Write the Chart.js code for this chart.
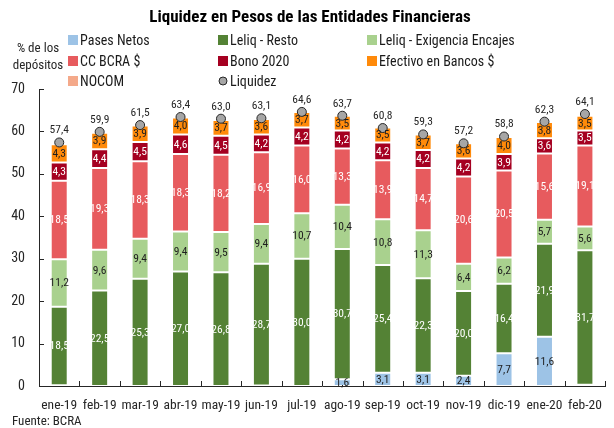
<!DOCTYPE html>
<html><head><meta charset="utf-8">
<script src="https://cdn.jsdelivr.net/npm/chart.js@4.4.0/dist/chart.umd.min.js"></script>
<style>html,body{margin:0;padding:0;background:#fff;}#wrap{width:614px;height:428px;position:relative;}</style>
</head><body><div id="wrap"><canvas id="c" width="614" height="428"></canvas></div>
<script>
const categories = ['ene-19','feb-19','mar-19','abr-19','may-19','jun-19','jul-19','ago-19','sep-19','oct-19','nov-19','dic-19','ene-20','feb-20'];
const pasesNetos   = [0.2,0,0,0,0,0.1,0,1.6,3.1,3.1,2.4,7.7,11.6,0.3];
const leliqResto   = [18.5,22.5,25.3,27.0,26.8,28.7,30.0,30.7,25.4,22.3,20.0,16.4,21.9,31.7];
const leliqEncajes = [11.2,9.6,9.4,9.4,9.5,9.4,10.7,10.4,10.8,11.3,6.4,6.2,5.7,5.6];
const ccBcra       = [18.5,19.3,18.3,18.3,18.2,16.9,16.0,13.3,13.9,14.7,20.6,20.5,15.6,19.1];
const bono2020     = [4.3,4.4,4.5,4.6,4.5,4.2,4.2,4.2,4.2,4.2,4.2,3.9,3.6,3.5];
const efectivo     = [4.3,3.9,3.9,4.0,3.7,3.6,3.7,3.5,3.5,3.7,3.6,4.0,3.8,3.5];
const nocom        = [0.1,0.2,0.1,0.1,0.3,0.2,0,0,0,0,0,0.1,0.1,0.4];
const liquidez     = [57.4,59.9,61.5,63.4,63.0,63.1,64.6,63.7,60.8,59.3,57.2,58.8,62.3,64.1];
const yTicks = [0,10,20,30,40,50,60,70];

const FONT = "'Roboto Condensed','Liberation Sans Narrow','DejaVu Sans Condensed',Roboto,sans-serif";
Chart.defaults.font.family = FONT;
Chart.defaults.color = '#262626';

const fmt = v => v.toFixed(1).replace('.', ',');

function barDs(label, data, color, labelColor){
  return {type:'bar', label, data, backgroundColor:color, borderColor:'rgba(255,255,255,0.55)', borderWidth:1,
    borderSkipped:false, stack:'s', barPercentage:0.42, categoryPercentage:1.0, labelColor, order:2};
}
const datasets = [
  barDs('Pases Netos', pasesNetos, '#9DC3E6', '#1f1f1f'),
  barDs('Leliq - Resto', leliqResto, '#548235', '#ffffff'),
  barDs('Leliq - Exigencia Encajes', leliqEncajes, '#A9D18E', '#1f1f1f'),
  barDs('CC BCRA $', ccBcra, '#E75B5E', '#ffffff'),
  barDs('Bono 2020', bono2020, '#A50021', '#ffffff'),
  barDs('Efectivo en Bancos $', efectivo, '#FF8A0A', '#1f1f1f'),
  barDs('NOCOM', nocom, '#F4A98A', null),
  {type:'line', label:'Liquidez', data:liquidez, showLine:false, stack:'liq', pointStyle:'circle', pointRadius:4.5,
   pointBackgroundColor:'#A6A6A6', pointBorderColor:'#262626', pointBorderWidth:1, backgroundColor:'#A6A6A6', borderColor:'#262626', order:1}
];

const decor = {
  id:'decor',
  afterDraw(chart){
    const ctx = chart.ctx, ca = chart.chartArea;
    const xs = chart.scales.x, ys = chart.scales.y;
    ctx.save();
    ctx.strokeStyle = '#262626'; ctx.lineWidth = 1;
    ys.ticks.forEach(t => { const py = Math.round(ys.getPixelForValue(t.value))+0.5; ctx.beginPath(); ctx.moveTo(ca.left, py); ctx.lineTo(ca.left+5, py); ctx.stroke(); });
    for (let i=1;i<=categories.length;i++){
      const px = Math.round(xs.getPixelForValue(i-0.5))+0.5;
      ctx.beginPath(); ctx.moveTo(px, ca.bottom); ctx.lineTo(px, ca.bottom-5); ctx.stroke();
    }
    ctx.font = '11.5px '+FONT; ctx.textAlign='center'; ctx.textBaseline='middle';
    chart.data.datasets.forEach((ds, di) => {
      if (ds.type !== 'bar' || !ds.labelColor) return;
      const meta = chart.getDatasetMeta(di);
      meta.data.forEach((el, i) => {
        const v = ds.data[i];
        if (v < 1) return;
        ctx.fillStyle = ds.labelColor;
        ctx.fillText(fmt(v), el.x, (el.y + el.base)/2 + 0.5);
      });
    });
    const lm = chart.getDatasetMeta(7);
    ctx.fillStyle = '#262626'; ctx.font = '11.5px '+FONT;
    lm.data.forEach((el, i) => { ctx.fillText(fmt(liquidez[i]), el.x, el.y - 12); });
    ctx.font = 'bold 17px '+FONT; ctx.fillStyle = '#000';
    ctx.fillText('Liquidez en Pesos de las Entidades Financieras', 310, 18);
    ctx.font = '13px '+FONT; ctx.fillStyle='#262626';
    ctx.fillText('% de los', 38, 49); ctx.fillText('depósitos', 38, 66);
    ctx.textAlign='left';
    ctx.fillText('Fuente: BCRA', 12, 422);
    const colX = [68, 218, 367], rowY = [40, 61, 81];
    ctx.font = '14px '+FONT;
    chart.data.datasets.forEach((ds, di) => {
      const cx = colX[di % 3], cy = rowY[Math.floor(di/3)];
      if (ds.type === 'bar'){ ctx.fillStyle = ds.backgroundColor; ctx.fillRect(cx, cy-5, 10, 10); }
      else { ctx.beginPath(); ctx.arc(cx+5, cy, 4, 0, Math.PI*2); ctx.fillStyle='#A6A6A6'; ctx.fill(); ctx.strokeStyle='#262626'; ctx.stroke(); }
      ctx.fillStyle = '#1a1a1a'; ctx.textBaseline='middle';
      ctx.fillText(ds.label, cx+12, cy+1);
    });
    ctx.restore();
  }
};

new Chart(document.getElementById('c'), {
  data:{labels:categories, datasets},
  options:{
    responsive:false, animation:false,
    layout:{padding:{top:89, right:2, bottom:13, left:0}},
    plugins:{legend:{display:false}, title:{display:false}, tooltip:{enabled:false}},
    scales:{
      x:{stacked:true, offset:true,
         grid:{display:false, drawTicks:false},
         border:{display:true, color:'#262626', width:1},
         ticks:{padding:12, font:{size:13.5}, color:'#262626', maxRotation:0, autoSkip:false},
         afterFit(s){ s.height = 29; }},
      y:{stacked:true, min:0, max:70,
         grid:{display:false, drawTicks:false},
         border:{display:true, color:'#262626', width:1},
         ticks:{stepSize:10, padding:14, font:{size:14}, color:'#262626',
                callback:(v)=> yTicks.includes(v) ? String(v) : null},
         afterFit(s){ s.width = 39; }}
    }
  },
  plugins:[decor]
});
</script></body></html>
